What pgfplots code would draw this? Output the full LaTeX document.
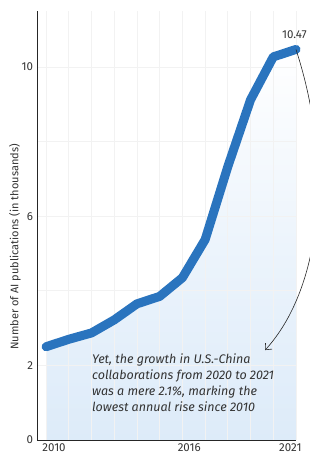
\documentclass[border=0pt]{standalone}
\usepackage{fontspec}
\setmainfont{Fira Sans}
\usepackage{pgfplots}
\pgfplotsset{compat=1.18}
\usetikzlibrary{arrows.meta}
\definecolor{linec}{HTML}{2A74BE}
\definecolor{fillc}{HTML}{DDEBF9}
\definecolor{gridc}{HTML}{F2F2F2}
\definecolor{txtc}{HTML}{333333}
\begin{document}
\begin{tikzpicture}
\begin{axis}[
  set layers,
  scale only axis,
  width=259pt, height=429pt,
  xmin=2009.6, xmax=2021,
  ymin=0, ymax=11.5,
  axis x line=bottom, axis y line=left,
  axis line style={-, line width=0.8pt, color=black!85},
  xtick={2010.35,2016.3,2020.75},
  xticklabels={2010,2016,2021},
  minor xtick={2010,2011,...,2021},
  ytick={0,2,6,10},
  minor ytick={4,8},
  xmajorgrids=false, xminorgrids=true,
  ymajorgrids=true, yminorgrids=true,
  major grid style={gridc, line width=0.8pt},
  minor grid style={gridc, line width=0.8pt},
  major tick length=0pt, minor tick length=0pt,
  tick label style={font=\fontsize{11.5}{13}\selectfont, text=txtc},
  /pgf/number format/assume math mode=true,
  xticklabel style={yshift=-0.5pt},
  yticklabel style={xshift=-0.5pt},
  ylabel={Number of AI publications (in thousands)},
  ylabel style={at={(axis description cs:-0.085,0.45)}, rotate=0, anchor=center, font=\fontsize{11}{13}\selectfont, text=txtc},
  clip=false,
]
\addplot[on layer=axis background, draw=none, top color=white, bottom color=fillc, middle color=fillc!55!white] coordinates {
  (2010,2.50) (2011,2.70) (2012,2.87) (2013,3.22) (2014,3.65) (2015,3.85)
  (2016,4.35) (2017,5.37) (2018,7.33) (2019,9.12) (2020,10.27) (2021,10.47)
} \closedcycle;
\addplot[linec, line width=9pt, line cap=round, line join=round] coordinates {
  (2010,2.50) (2011,2.70) (2012,2.87) (2013,3.22) (2014,3.65) (2015,3.85)
  (2016,4.35) (2017,5.37) (2018,7.33) (2019,9.12) (2020,10.27) (2021,10.47)
};
\node[anchor=south, text=txtc, font=\fontsize{11.5}{13}\selectfont, xshift=-1.5pt, yshift=7pt] at (axis cs:2021,10.47) {10.47};
\draw[black!85, line width=0.6pt, -{Straight Barb[length=5pt, width=9pt]}]
  (axis cs:2021,10.47) .. controls (axis cs:2022.72,7.24) and (axis cs:2022.06,4.02) .. (axis cs:2019.64,2.41);
\node[anchor=north west, align=left, text=txtc, font=\fontsize{12.5}{16}\selectfont\itshape, inner sep=0pt] at (axis cs:2012.02,2.33)
  {Yet, the growth in U.S.-China\\collaborations from 2020 to 2021\\was a mere 2.1\%, marking the\\lowest annual rise since 2010};
\end{axis}
\pgfresetboundingbox
\path[use as bounding box] ([xshift=-37pt,yshift=-16pt]current axis.south west) rectangle ([xshift=13pt,yshift=11pt]current axis.north east);
\end{tikzpicture}
\end{document}
